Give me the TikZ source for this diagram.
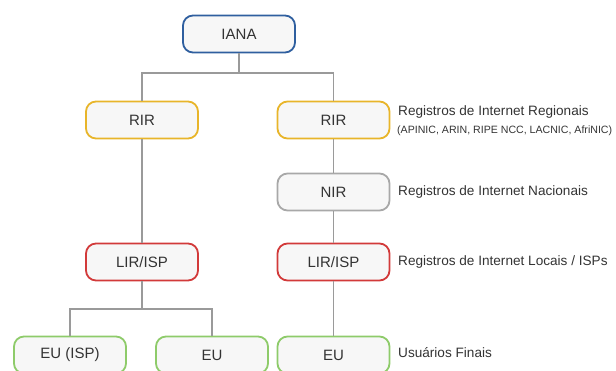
\documentclass[tikz,border=0pt]{standalone}
\usepackage{fontspec}
\setmainfont{Liberation Sans}
\definecolor{cblue}{HTML}{2F5F9F}
\definecolor{cyellow}{HTML}{E8B52A}
\definecolor{cgray}{HTML}{A8A8A8}
\definecolor{cred}{HTML}{D23A3A}
\definecolor{cgreen}{HTML}{8ECB6A}
\definecolor{ctext}{HTML}{333333}
\definecolor{cline}{HTML}{9A9A9A}
\tikzset{
  box/.style={draw, line width=1.8pt, rounded corners=10pt, fill=white!97!black,
    minimum width=112pt, minimum height=37pt, inner sep=0pt,
    font=\fontsize{15}{17}\selectfont, text=ctext},
  bblue/.style={box, draw=cblue},
  byellow/.style={box, draw=cyellow},
  bgray/.style={box, draw=cgray},
  bred/.style={box, draw=cred},
  bgreen/.style={box, draw=cgreen},
  lbl/.style={anchor=west, inner sep=0pt, font=\fontsize{13.6}{16}\selectfont, text=ctext},
  sml/.style={anchor=west, inner sep=0pt, font=\fontsize{10.6}{12}\selectfont, text=ctext},
  conn/.style={draw=cline, line width=1.2pt},
}
\begin{document}
\begin{tikzpicture}[x=1pt,y=-1pt]
\useasboundingbox (0,0) rectangle (616,370);
\clip (0,0) rectangle (616,370);
\node[bblue] (iana) at (239,34) {IANA};
\node[byellow] (rir1) at (142,120) {RIR};
\node[byellow] (rir2) at (333.5,120) {RIR};
\node[bgray] (nir) at (333.5,192) {NIR};
\node[bred] (lir1) at (142,262) {LIR/ISP};
\node[bred] (lir2) at (333.5,262) {LIR/ISP};
\node[bgreen] (eu1) at (70,355) {EU (ISP)};
\node[bgreen] (eu2) at (212,355) {EU};
\node[bgreen] (eu3) at (333.5,355) {EU};
\coordinate (j1) at (239,73);
\coordinate (j2) at (142,309);
\draw[conn] (iana.south) -- (j1) -| (rir1.north);
\draw[conn] (j1) -| (rir2.north);
\draw[conn] (rir1) -- (lir1);
\draw[conn] (lir1.south) -- (j2) -| (eu1.north);
\draw[conn] (j2) -| (eu2.north);
\draw[conn] (rir2) -- (nir);
\draw[conn] (nir) -- (lir2);
\draw[conn] (lir2) -- (eu3);
\node[lbl] (l1) at (398,112) {Registros de Internet Regionais};
\node[sml] (l1b) at (397,131) {(APINIC, ARIN, RIPE NCC, LACNIC, AfriNIC)};
\node[lbl] (l2) at (398,192) {Registros de Internet Nacionais};
\node[lbl] (l3) at (398,262) {Registros de Internet Locais / ISPs};
\node[lbl] (l4) at (398,353) {Usuários Finais};
\end{tikzpicture}
\end{document}
